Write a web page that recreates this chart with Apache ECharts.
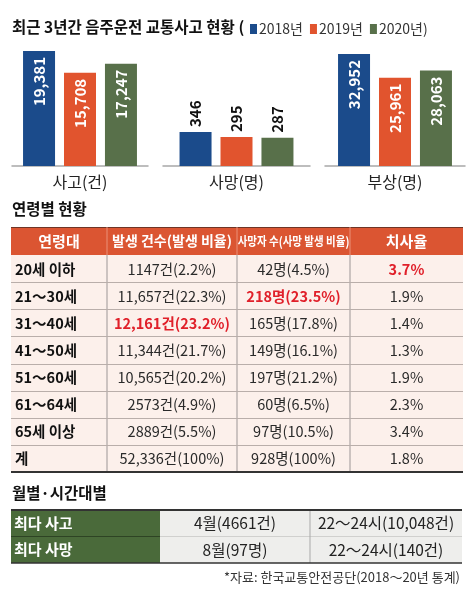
<!DOCTYPE html>
<html><head><meta charset="utf-8">
<script src="https://cdn.jsdelivr.net/npm/echarts@6/dist/echarts.min.js"></script>
<style>html,body{margin:0;padding:0;background:#fff}#c{width:474px;height:594px}</style>
</head><body><div id="c"></div>
<script>
// ---------- data ----------
const years = ['2018년', '2019년', '2020년'];
const metrics = ['사고(건)', '사망(명)', '부상(명)'];
const accidentsByYear = [19381, 15708, 17247];
const deathsByYear = [346, 295, 287];
const injuriesByYear = [32952, 25961, 28063];

const ageGroups = ['20세 이하', '21～30세', '31～40세', '41～50세', '51～60세', '61～64세', '65세 이상', '계'];
const ageAccidents = [1147, 11657, 12161, 11344, 10565, 2573, 2889, 52336];
const ageAccidentPct = [2.2, 22.3, 23.2, 21.7, 20.2, 4.9, 5.5, 100];
const ageDeaths = [42, 218, 165, 149, 197, 60, 97, 928];
const ageDeathPct = [4.5, 23.5, 17.8, 16.1, 21.2, 6.5, 10.5, 100];
const ageFatality = [3.7, 1.9, 1.4, 1.3, 1.9, 2.3, 3.4, 1.8];
const tableHeaders = ['연령대', '발생 건수(발생 비율)', '사망자 수(사망 발생 비율)', '치사율'];

const peakRows = ['최다 사고', '최다 사망'];
const peakMonth = [4, 8];
const peakMonthValue = [4661, 97];
const peakMonthUnit = ['건', '명'];
const peakTime = ['22～24시', '22～24시'];
const peakTimeValue = [10048, 140];
const peakTimeUnit = ['건', '건'];

const titleText = '최근 3년간 음주운전 교통사고 현황 (';
const ageTitle = '연령별 현황';
const peakTitle = '월별·시간대별';
const sourceText = '*자료: 한국교통안전공단(2018～20년 통계)';

// ---------- styles ----------
const FONT = '"Noto Sans CJK KR", "Noto Sans", sans-serif';
const yearColors = ['#1B4B8B', '#E1542E', '#58704A'];
const fmt = n => n >= 10000 ? n.toLocaleString('en-US') : String(n);
const fmtComma = n => n.toLocaleString('en-US');

const valuesByMetric = [accidentsByYear, deathsByYear, injuriesByYear];
const grids = [
  { left: 12, width: 136, top: 40, bottom: 428 },
  { left: 163, width: 147, top: 40, bottom: 428 },
  { left: 325, width: 140, top: 40, bottom: 428 }
];
const yMax = [21234, 1282, 37071];
const labelInside = [true, false, true];

const xAxis = [], yAxis = [], series = [];
metrics.forEach((m, i) => {
  xAxis.push({
    type: 'category', gridIndex: i, data: [m],
    axisLine: { lineStyle: { color: '#a8a8a8', width: 1.5 } },
    axisTick: { show: false },
    axisLabel: { fontSize: 16, color: '#222', margin: 8, fontFamily: FONT }
  });
  yAxis.push({ type: 'value', gridIndex: i, min: 0, max: yMax[i], show: false, splitLine: { show: false } });
  years.forEach((y, j) => {
    series.push({
      type: 'bar', name: y, xAxisIndex: i, yAxisIndex: i,
      data: [valuesByMetric[i][j]],
      barWidth: 32, barGap: '28%',
      itemStyle: { color: yearColors[j] },
      label: labelInside[i] ? {
        show: true, position: 'insideTop', rotate: 90, align: 'right', verticalAlign: 'middle',
        distance: 6, color: '#fff', fontSize: 15, fontWeight: 'bold', fontFamily: FONT,
        formatter: p => fmtComma(p.value)
      } : {
        show: true, position: 'top', rotate: 90, align: 'left', verticalAlign: 'middle',
        distance: 5, color: '#111', fontSize: 15, fontWeight: 'bold', fontFamily: FONT,
        formatter: p => fmtComma(p.value)
      }
    });
  });
});

// ---------- tables (graphic) ----------
const g = [];
function rect(x, y, w, h, fill) { g.push({ type: 'rect', silent: true, shape: { x, y, width: w, height: h }, style: { fill } }); }
function line(x1, y1, x2, y2, stroke, lw) { g.push({ type: 'line', silent: true, shape: { x1, y1, x2, y2 }, style: { stroke, lineWidth: lw } }); }
function text(x, y, t, o) {
  g.push(Object.assign({ type: 'text', silent: true, x, y,
    style: Object.assign({ text: t, fill: '#2a2a2a', fontSize: 14.5, fontFamily: FONT, align: 'center', verticalAlign: 'middle' }, o.style || {}) },
    o.el || {}));
}

// section title
text(12, 209, ageTitle, { style: { align: 'left', fontSize: 15.5, fontWeight: 'bold', fill: '#111' } });

const cols = [11, 107, 237, 350, 463];
const tTop = 227, headH = 28, rowH = 27.125;
const bodyTop = tTop + headH;
const bodyBottom = bodyTop + rowH * ageGroups.length;
rect(cols[0], tTop, cols[4] - cols[0], headH, '#DB5532');
rect(cols[0], bodyTop, cols[4] - cols[0], bodyBottom - bodyTop, '#FCF0EB');
line(cols[0], tTop + 0.5, cols[4], tTop + 0.5, '#6e3526', 1);
for (let k = 1; k < 4; k++) {
  line(cols[k], tTop, cols[k], bodyTop, '#EA9178', 1);
  line(cols[k], bodyTop, cols[k], bodyBottom, '#9c9696', 1);
}
for (let r = 1; r < ageGroups.length; r++) {
  const y = Math.round(bodyTop + r * rowH) + 0.5;
  line(cols[0], y, cols[4], y, '#b9aeaa', 1);
}
line(cols[0], bodyBottom, cols[4], bodyBottom, '#333', 2);

// header texts
const headCenters = [0, 1, 2, 3].map(k => (cols[k] + cols[k + 1]) / 2);
tableHeaders.forEach((h, k) => {
  if (k === 2) {
    text(headCenters[k], tTop + headH / 2, h, { style: { fill: '#fff', fontSize: 12.5, fontWeight: 'bold' }, el: { scaleX: 0.84, originX: 0, originY: 0 } });
  } else {
    text(headCenters[k], tTop + headH / 2, h, { style: { fill: '#fff', fontSize: k === 1 ? 14 : 15, fontWeight: 'bold' } });
  }
});

// body
const nAge = ageGroups.length - 1; // exclude total row for highlight
const maxIdx = arr => arr.slice(0, nAge).indexOf(Math.max(...arr.slice(0, nAge)));
const hiAcc = maxIdx(ageAccidents), hiDeath = maxIdx(ageDeaths), hiFat = maxIdx(ageFatality);
const RED = '#E0202A';
ageGroups.forEach((a, r) => {
  const cy = bodyTop + r * rowH + rowH / 2 + 0.5;
  text(15, cy, a, { style: { align: 'left', fontSize: 14.5, fontWeight: 'bold', fill: '#111' } });
  const hi = (cond) => cond ? { fill: RED, fontWeight: 'bold', fontSize: 14.5 } : {};
  text(headCenters[1], cy, fmt(ageAccidents[r]) + '건(' + ageAccidentPct[r] + '%)', { style: hi(r === hiAcc) });
  text(headCenters[2], cy, fmt(ageDeaths[r]) + '명(' + ageDeathPct[r] + '%)', { style: hi(r === hiDeath) });
  text(headCenters[3], cy, ageFatality[r].toFixed(1) + '%', { style: hi(r === hiFat) });
});

// peak table
text(12, 493, peakTitle, { style: { align: 'left', fontSize: 15.5, fontWeight: 'bold', fill: '#111' } });
const pc = [11, 160, 310, 462];
const pTop = 510, pRowH = 26.5;
const pBottom = pTop + pRowH * peakRows.length;
rect(pc[0], pTop, pc[1] - pc[0], pBottom - pTop, '#4A6A3A');
rect(pc[1], pTop, pc[3] - pc[1], pBottom - pTop, '#EEEEEC');
for (let r = 1; r < peakRows.length; r++) {
  const y = pTop + r * pRowH;
  line(pc[0], y, pc[1], y, '#2e4424', 1);
  line(pc[1], y, pc[3], y, '#d0d0ce', 1);
}
line(pc[2], pTop, pc[2], pBottom, '#a9a9a9', 1);
line(pc[0], pTop, pc[3], pTop, '#333', 2);
line(pc[0], pBottom, pc[3], pBottom, '#333', 1.5);
peakRows.forEach((p, r) => {
  const cy = pTop + r * pRowH + pRowH / 2;
  text(14, cy, p, { style: { align: 'left', fontSize: 15, fontWeight: 'bold', fill: '#fff' } });
  text((pc[1] + pc[2]) / 2, cy, peakMonth[r] + '월(' + fmt(peakMonthValue[r]) + peakMonthUnit[r] + ')', { style: { fontSize: 15.5, fill: '#222' } });
  text((pc[2] + pc[3]) / 2, cy, peakTime[r] + '(' + fmt(peakTimeValue[r]) + peakTimeUnit[r] + ')', { style: { fontSize: 15.5, fill: '#222' } });
});
text(460, 577, sourceText, { style: { align: 'right', fontSize: 13, fill: '#333' } });

const chart = echarts.init(document.getElementById('c'), null, { renderer: 'canvas' });
chart.setOption({
  backgroundColor: '#fff',
  animation: false,
  textStyle: { fontFamily: FONT },
  title: { text: titleText, left: 12, top: 19, padding: 0,
    textStyle: { fontSize: 15.5, fontWeight: 'bold', color: '#111', fontFamily: FONT } },
  legend: {
    data: years, left: 250, top: 22, padding: 0, icon: 'rect', itemWidth: 7, itemHeight: 10, itemGap: 7,
    textStyle: { fontSize: 14, color: '#333', fontFamily: FONT, padding: [0, 0, 0, -3] },
    formatter: n => n === years[years.length - 1] ? n + ')' : n,
    selectedMode: false
  },
  grid: grids,
  xAxis, yAxis, series,
  graphic: g
});
</script>
</body></html>
